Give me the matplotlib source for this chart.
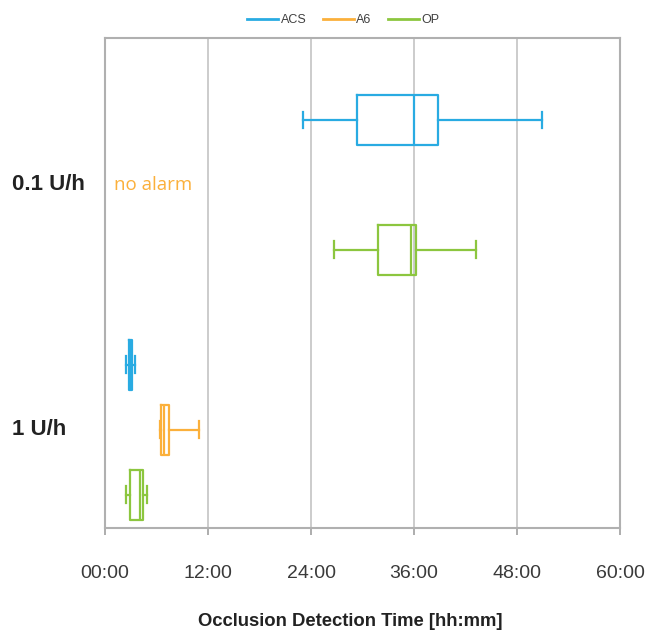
import matplotlib.pyplot as plt
from matplotlib.lines import Line2D

plt.rcParams['font.family'] = ['Liberation Sans', 'DejaVu Sans']

series = ['ACS', 'A6', 'OP']
colors = ['#29abe2', '#fbb03b', '#8cc63f']
groups = ['0.1 U/h', '1 U/h']

# five-number summaries in hours: whislo, q1, med, q3, whishi (None = no alarm)
data = {
    '0.1 U/h': [[23.1, 29.4, 36.0, 38.8, 50.9], None, [26.7, 31.8, 35.6, 36.2, 43.2]],
    '1 U/h': [[2.5, 2.75, 2.95, 3.15, 3.5], [6.4, 6.55, 6.85, 7.4, 11.0], [2.4, 2.95, 4.05, 4.4, 4.9]],
}
group_pos = [1, 4.77]
xticks = [0, 12, 24, 36, 48, 60]

fig = plt.figure(figsize=(6.49, 6.32), dpi=100)
ax = fig.add_axes([105 / 649, 1 - 528 / 632, 515 / 649, 490.5 / 632])

for g, base in zip(groups, group_pos):
    for i, s in enumerate(series):
        vals = data[g][i]
        pos = base + i
        if vals is None:
            ax.text(1.0, pos, 'no alarm', color=colors[i], fontsize=13.5,
                    family='Open Sans', va='center', ha='left')
            continue
        st = dict(whislo=vals[0], q1=vals[1], med=vals[2], q3=vals[3], whishi=vals[4], fliers=[])
        lp = dict(color=colors[i], linewidth=1.6)
        ax.bxp([st], positions=[pos], widths=0.76, orientation='horizontal',
               showfliers=False, boxprops=lp, whiskerprops=lp, capprops=lp,
               medianprops=lp, capwidths=0.26, manage_ticks=False)
    ax.text(-0.1806, base + 1, g, transform=ax.get_yaxis_transform(),
            fontsize=16, fontweight='bold', color='#222222', va='center', ha='left')

ax.set_xlim(0, 60)
ax.set_ylim(7.28, -0.27)
ax.set_xticks(xticks)
ax.set_xticklabels([f'{h:02d}:00' for h in xticks], fontsize=14, color='#3a3a3a')
ax.set_yticks([])
ax.tick_params(axis='x', length=5, width=1.2, color='#a0a0a0', pad=22)
ax.grid(axis='x', color='#cccccc', linewidth=1.4)
ax.set_axisbelow(True)
for sp in ax.spines.values():
    sp.set_color('#b0b0b0')
    sp.set_linewidth(1.5)

ax.set_xlabel('Occlusion Detection Time [hh:mm]', fontsize=13.3, fontweight='bold',
              color='#222222')
ax.xaxis.set_label_coords(0.476, -0.174)

handles = [Line2D([], [], color=c, linewidth=2) for c in colors]
fig.legend(handles, series, loc='center', bbox_to_anchor=(0.529, 0.968), ncol=3,
           frameon=False, fontsize=9, handlelength=2.5, handletextpad=0.2,
           columnspacing=1.3, labelcolor='#404040')

fig.savefig('out.png', dpi=100)
